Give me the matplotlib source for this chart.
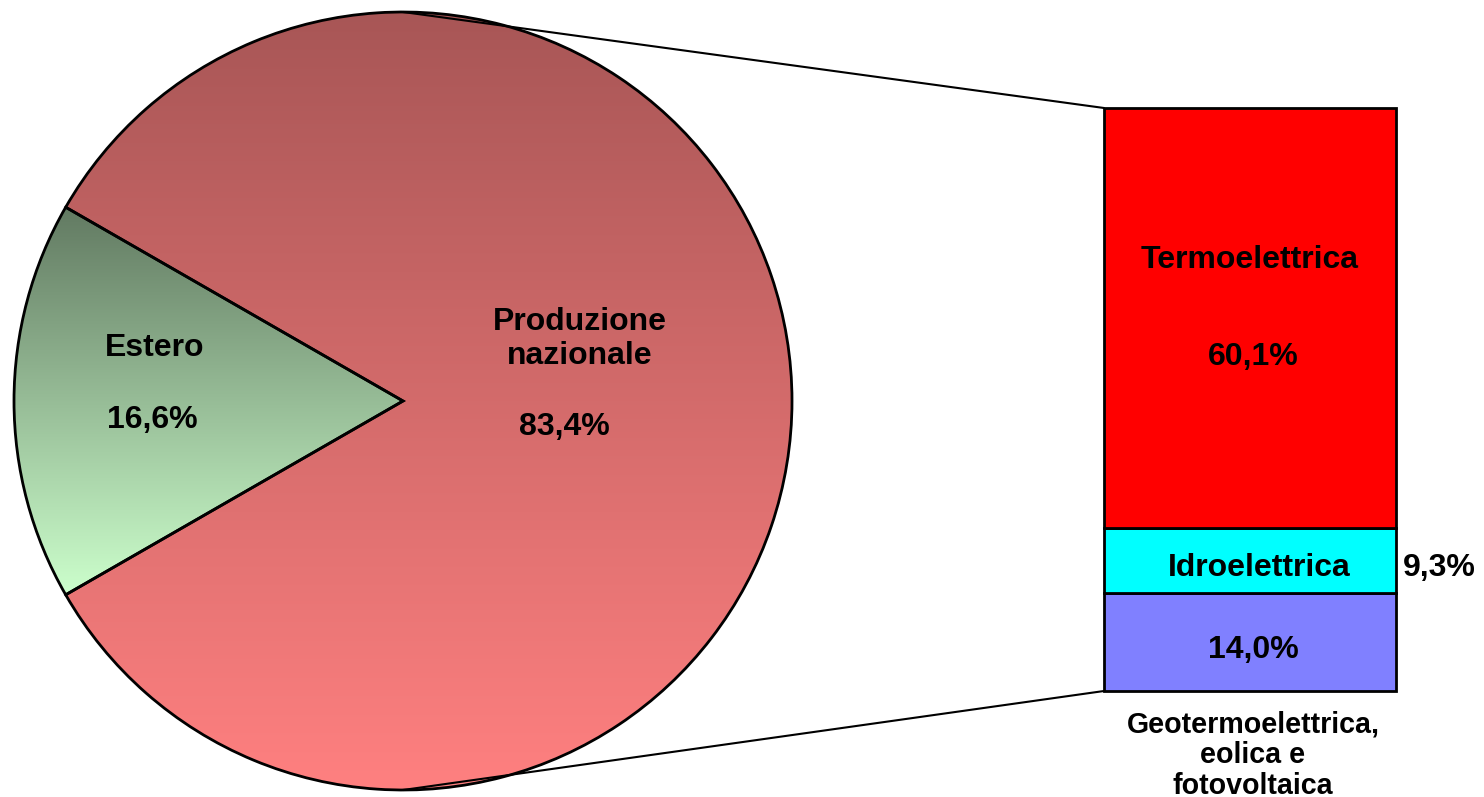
import numpy as np
import matplotlib
matplotlib.use('Agg')
import matplotlib.pyplot as plt
from matplotlib.patches import ConnectionPatch

# pie: foreign vs national production
pie_labels = ['Estero', 'Produzione\nnazionale']
pie_values = [16.6, 83.4]

# bar: split of national production (bottom to top)
bar_labels = ['Geotermoelettrica,\neolica e\nfotovoltaica', 'Idroelettrica', 'Termoelettrica']
bar_values = [14.0, 9.3, 60.1]
bar_colors = ['#8080FF', '#00FFFF', '#FF0000']


def pct(v):
    return '{:.1f}%'.format(v).replace('.', ',')


def gradient(top, bottom, n=256):
    top = np.array(top) / 255.0
    bottom = np.array(bottom) / 255.0
    t = np.linspace(0, 1, n)[:, None]
    return (top + (bottom - top) * t)[:, None, :]


plt.rcParams['font.family'] = ['Liberation Sans', 'DejaVu Sans']
W, H = 1484, 797
fig = plt.figure(figsize=(W / 100, H / 100), dpi=100)
ax = fig.add_axes([0, 0, 1, 1])

cx, cy, r = 403, 401, 389
half = pie_values[0] * 3.6 / 2
wedges, _ = ax.pie(pie_values, center=(cx, cy), radius=r, startangle=180 - half,
                   wedgeprops=dict(facecolor='none', edgecolor='black', linewidth=2))

# gradient fills clipped to the wedges
im = ax.imshow(gradient((168, 86, 86), (255, 128, 128)), extent=(cx - r, cx + r, cy + r, cy - r),
               aspect='auto', zorder=0, interpolation='bilinear')
im.set_clip_path(wedges[1])
a = np.deg2rad(180 - half)
ey0, ey1 = cy - r * np.sin(a), cy + r * np.sin(a)
im2 = ax.imshow(gradient((98, 122, 98), (204, 255, 204)), extent=(cx - r, cx, ey1, ey0),
                aspect='auto', zorder=0, interpolation='bilinear')
im2.set_clip_path(wedges[0])

ax.set_xlim(0, W)
ax.set_ylim(H, 0)
ax.axis('off')

fs = 23
ax.text(155, 348, pie_labels[0], ha='center', va='center', fontsize=fs, fontweight='bold')
ax.text(152, 420, pct(pie_values[0]), ha='center', va='center', fontsize=fs, fontweight='bold')
ax.text(580, 339, pie_labels[1], ha='center', va='center', fontsize=fs, fontweight='bold',
        linespacing=1.15)
ax.text(564, 427, pct(pie_values[1]), ha='center', va='center', fontsize=fs, fontweight='bold')

# stacked bar
bx0, bx1, by0, by1 = 1104, 1396, 108, 691
bax = fig.add_axes([bx0 / W, (H - by1) / H, (bx1 - bx0) / W, (by1 - by0) / H])
bottoms = np.concatenate([[0], np.cumsum(bar_values)[:-1]])
total = sum(bar_values)
bars = bax.bar([0] * 3, bar_values, bottom=bottoms, width=1, color=bar_colors,
               edgecolor='black', linewidth=2)
for b in bars:
    b.set_clip_on(False)
bax.set_xlim(-0.5, 0.5)
bax.set_ylim(0, total)
bax.axis('off')

mids = bottoms + np.array(bar_values) / 2
# Termoelettrica
bax.text(0, mids[2] + 8.3, bar_labels[2], ha='center', va='center', fontsize=fs, fontweight='bold')
bax.text(0.01, mids[2] - 5.6, pct(bar_values[2]), ha='center', va='center', fontsize=fs, fontweight='bold')
# Idroelettrica
bax.text(0.03, mids[1] - 1.1, bar_labels[1], ha='center', va='center', fontsize=fs, fontweight='bold')
bax.text(0.65, mids[1] - 1.1, pct(bar_values[1]), ha='center', va='center', fontsize=fs,
         fontweight='bold', clip_on=False)
# Geo
bax.text(0.01, mids[0] - 1.1, pct(bar_values[0]), ha='center', va='center', fontsize=fs, fontweight='bold')
bax.text(0.01, -9.2, bar_labels[0], ha='center', va='center', fontsize=20.6, fontweight='bold',
         linespacing=1.13, clip_on=False)

# connector lines
for ya, yb in [(cy - r, total), (cy + r, 0)]:
    con = ConnectionPatch(xyA=(cx, ya), coordsA=ax.transData, xyB=(-0.5, yb), coordsB=bax.transData,
                          color='black', linewidth=1.5)
    fig.add_artist(con)

fig.savefig('out.png', dpi=100)
